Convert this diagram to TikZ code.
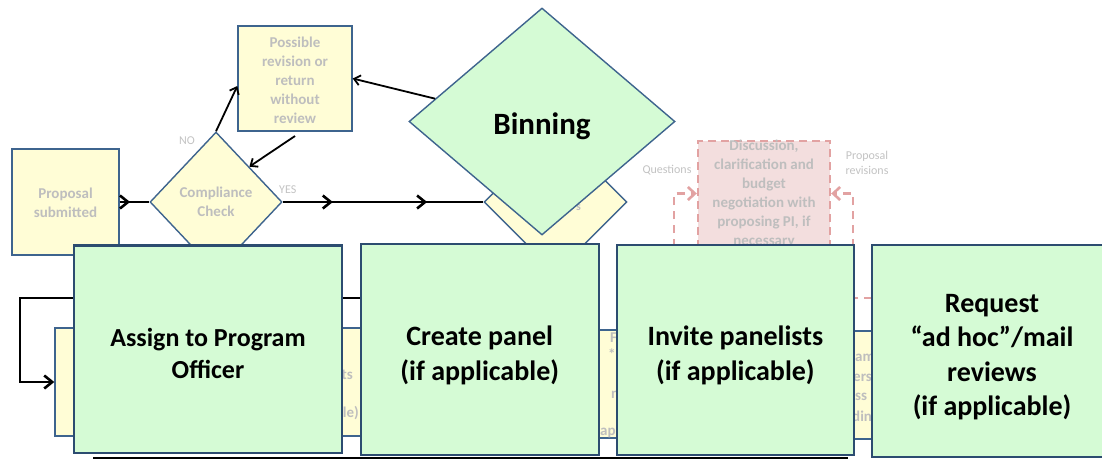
\documentclass[tikz,border=0pt]{standalone}
\usepackage{fontspec}
\setmainfont{Carlito}
\usetikzlibrary{shapes.geometric,arrows.meta,decorations.markings,calc}

\definecolor{boxyellow}{RGB}{255,253,214}
\definecolor{boxgreen}{RGB}{213,251,213}
\definecolor{edgeblue}{RGB}{62,100,142}
\definecolor{edgenavy}{RGB}{44,76,112}
\definecolor{fadedtext}{RGB}{190,190,190}
\definecolor{notepink}{RGB}{243,222,222}
\definecolor{dashpink}{RGB}{226,162,162}
\definecolor{labelgray}{RGB}{195,195,195}

\tikzset{
  barb/.tip={Straight Barb[length=8pt,width=13pt]},
  smallbarb/.tip={Straight Barb[length=6pt,width=10pt]},
  ybox/.style={draw=edgeblue, line width=1.4pt, fill=boxyellow, inner sep=0pt,
    align=center, text=fadedtext, font=\fontsize{15}{19}\selectfont\bfseries},
  ydiam/.style={ybox, diamond},
  gbox/.style={draw=edgenavy, line width=2.2pt, fill=boxgreen, inner sep=0pt},
  gtext/.style={inner sep=0pt, align=center, text=black,
    font=\fontsize{28}{34.5}\selectfont\bfseries},
  faded/.style={text=fadedtext, inner sep=0pt, font=\fontsize{15}{19}\selectfont\bfseries},
  lbl/.style={text=labelgray, inner sep=0pt, align=center, font=\fontsize{12}{15}\selectfont},
  flowline/.style={line width=2.6pt, draw=black},
  thinflow/.style={line width=1.8pt, draw=black, -{smallbarb}},
  pinkbox/.style={draw=dashpink, fill=notepink, line width=2.4pt,
    dash pattern=on 8pt off 5pt, inner sep=0pt},
  pinkflow/.style={draw=dashpink, line width=2.6pt, dash pattern=on 8pt off 6pt,
    -{Straight Barb[length=7pt,width=13pt]}},
}

\begin{document}
\begin{tikzpicture}[x=1pt,y=-1pt]
\useasboundingbox (0,0) rectangle (1102,459);
\fill[white] (0,0) rectangle (1102,459);

% bottom rule
\coordinate (baseL) at (93,457.5);
\coordinate (baseR) at (848,457.5);
\draw[line width=2pt] (baseL) -- (baseR);

% second-row process boxes, partly covered
\node[ybox, minimum width=325, minimum height=108] (boxA) at (217.5,382) {};
\node[faded, anchor=east] (fa1) at (353,375) {ts};
\node[faded, anchor=east] (fa2) at (359,413) {le)};
\node[ybox, minimum width=45, minimum height=108] (boxB) at (607.5,384) {};
\node[faded, anchor=west] (fb1) at (610,338) {F};
\node[faded, anchor=west] (fb2) at (608,354) {*};
\node[faded, anchor=west] (fb3) at (611,395) {n};
\node[faded, anchor=west] (fb4) at (600,433) {ap};
\node[ybox, minimum width=40, minimum height=108] (boxC) at (865,385) {};
\node[faded, anchor=west] (fc1) at (855,358) {am};
\node[faded, anchor=west] (fc2) at (853,378) {ers};
\node[faded, anchor=west] (fc3) at (855,397) {ss};
\node[faded, anchor=west] (fc4) at (852,416) {din};

% discussion note with dashed feedback loops
\node[pinkbox, minimum width=132, minimum height=105] (disc) at (764,193.5) {};
\node[faded, align=center] (disctext) at (764,194)
  {Discussion,\\clarification and\\budget\\negotiation with\\proposing PI, if\\necessary};
\coordinate (qfoot) at (674,275);
\draw[pinkflow] (qfoot) |- (disc.west);
\coordinate (rfoot) at (900,298);
\coordinate (rturn) at (853,298);
\draw[pinkflow] (rfoot) -- (rturn) |- (disc.east);
\node[lbl] (qlbl) at (667,170) {Questions};
\node[lbl] (prlbl) at (867,162.5) {Proposal\\revisions};

% intake and compliance
\node[ybox, minimum width=107, minimum height=106] (ps) at (65.5,202) {};
\node[faded, align=center] (pstext) at (65.5,203) {Proposal\\submitted};
\node[ydiam, minimum width=132, minimum height=140] (cc) at (216,202) {Compliance\\Check};
\node[ybox, minimum width=114, minimum height=105] (rev) at (295,78.5) {};
\node[faded, align=center] (revtext) at (295,80.5)
  {Possible\\revision or\\return\\without\\review};
\node[lbl, anchor=west] (yes) at (279,190) {YES};
\node[lbl] (no) at (187,141) {NO};

\draw[flowline, postaction={decorate},
  decoration={markings, mark=at position 0.35 with {\arrow{barb}}}]
  (ps.east) -- (cc.west);
\draw[thinflow] (cc.north) -- ($(rev.west)+(0,7.5)$);
\coordinate (revout) at (295,136);
\draw[thinflow] (revout) -- (cc.north east);

% diamond behind the binning step
\node[ydiam, minimum width=143, minimum height=143] (yd) at (555.5,202) {};
\node[faded, anchor=east, font=\fontsize{12}{14}\selectfont\bfseries] (yds) at (581,208) {s};

\draw[flowline, postaction={decorate},
  decoration={markings,
    mark=at position 0.25 with {\arrow{barb}},
    mark=at position 0.72 with {\arrow{barb}}}]
  (cc.east) -- (yd.west);

% return loop to the second row
\coordinate (loopR) at (555.5,298);
\coordinate (loopL) at (20,298);
\draw[flowline, -{barb}, postaction={decorate},
  decoration={markings, mark=at position 506pt with {\arrow{Latex[length=6pt,width=7pt]}}}]
  (yd.south) -- (loopR) -- (loopL) |- (boxA.west);

% binning
\node[diamond, draw=edgeblue, line width=1.4pt, fill=boxgreen, inner sep=0pt,
  minimum width=266, minimum height=227] (bin) at (542,121.5) {};
\node[gtext, font=\fontsize{31}{36}\selectfont\bfseries] (bintext) at (542,126) {Binning};
\draw[thinflow] ($(bin.west)!0.2!(bin.north)$) -- (rev.east);

% main steps
\node[gbox, minimum width=268, minimum height=207.5] (assign) at (208,349.25) {};
\node[gtext, font=\fontsize{26}{32}\selectfont\bfseries] (assigntext) at (208,353)
  {Assign to Program\\Officer};
\node[gbox, minimum width=238, minimum height=211] (panel) at (479.7,349.5) {};
\node[gtext] (paneltext) at (479.7,355.5) {Create panel\\(if applicable)};
\node[gbox, minimum width=237.3, minimum height=210.3] (invite) at (735.35,349.85) {};
\node[gtext] (invitetext) at (735.35,355.5) {Invite panelists\\(if applicable)};
\node[gbox, minimum width=240, minimum height=211.7] (mail) at (992,350.85) {};
\node[gtext] (mailtext) at (992,357) {Request\\“ad hoc”/mail\\reviews\\(if applicable)};
\end{tikzpicture}
\end{document}
